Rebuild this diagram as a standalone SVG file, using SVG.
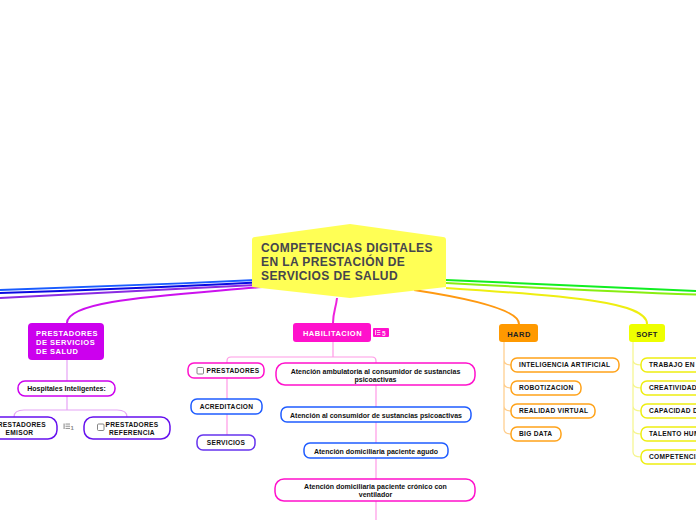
<svg xmlns="http://www.w3.org/2000/svg" width="696" height="520" viewBox="0 0 696 520">
<style>
text{font-family:"Liberation Sans",Arial,sans-serif;font-weight:bold}
.c{font-size:12px;fill:#45454d;letter-spacing:0.4px}
.w{fill:#fff;font-size:7.5px;letter-spacing:0.5px}
.t{font-size:7px;fill:#111}
.u{font-size:6.6px;fill:#111;letter-spacing:0.3px}
.m{text-anchor:middle}
.box{fill:#fff;stroke-width:1.5}
.main{fill:none;stroke-width:2}
.tree{fill:none;stroke-width:1.2}
.chk{fill:#fff;stroke:#777;stroke-width:0.9}
</style>
<g id="connectors">
<path class="main" stroke="#1a5cff" stroke-width="2.5" d="M258,280 C170,284 70,288 0,290"/>
<path class="main" stroke="#0a0ae0" d="M258,282.5 C170,287 70,291 0,293"/>
<path class="main" stroke="#8a2be2" d="M258,285 C170,289 70,295 0,298"/>
<path class="main" stroke="#cc11ee" stroke-width="1.5" d="M262,287 C160,296 67,300 67,323"/>
<path class="main" stroke="#ee22dd" stroke-width="1.5" d="M337,298 C336,308 333,312 333,323"/>
<path class="main" stroke="#11ee22" stroke-width="2.5" d="M446,280 C540,284 620,288 696,291"/>
<path class="main" stroke="#88ee11" d="M446,283 C540,288 620,292 696,294.5"/>
<path class="main" stroke="#eeee11" stroke-width="1.5" d="M446,288 C570,296 647,302 647,324"/>
<path class="main" stroke="#ff9911" stroke-width="1.5" d="M414,290 Q519,306 519,324"/>
<path class="tree" stroke="#e6a3f5" d="M67,360 L67,381 M67,396 L67,410 M14,417 Q14,410 24,410 L117,410 Q127,410 127,417"/>
<path class="tree" stroke="#ff99e6" d="M333,342 L333,357 M227,363 L227,361 Q227,357 231,357 L372,357 Q376,357 376,361 L376,363 M227,378 L227,435 M376,385 L376,520"/>
<path class="tree" stroke="#ffcc88" d="M504,342 L504,429 Q504,434 511,434 M504,360 Q504,365 511,365 M504,383 Q504,388 511,388 M504,406 Q504,411 511,411"/>
<path class="tree" stroke="#f5f58a" d="M633,342 L633,452 Q633,457 641,457 M633,360 Q633,365 641,365 M633,383 Q633,388 641,388 M633,406 Q633,411 641,411 M633,429 Q633,434 641,434"/>
</g>
<g id="central">
<path d="M252,240 Q252,237 255,237 L350,224 L443,237 Q446,237 446,240 L446,287 L350,298 L252,287 Z" fill="#ffff55"/>
<text class="c" x="261" y="252">COMPETENCIAS DIGITALES</text>
<text class="c" x="261" y="266">EN LA PRESTACIÓN DE</text>
<text class="c" x="261" y="279.5">SERVICIOS DE SALUD</text>
</g>
<g id="prestadores-servicios">
<rect x="28" y="323" width="76" height="37" rx="4" fill="#cc00ee"/>
<text class="w" x="36" y="336">PRESTADORES</text>
<text class="w" x="36" y="345">DE SERVICIOS</text>
<text class="w" x="36" y="354">DE SALUD</text>
</g>
<g id="hospitales">
<rect class="box" x="18" y="381" width="97" height="15" rx="7" stroke="#cc00ee"/>
<text class="t m" x="66.5" y="391">Hospitales Inteligentes:</text>
</g>
<g id="emisor">
<rect class="box" x="-18" y="417" width="75" height="22" rx="9" stroke="#6611ee"/>
<text class="u m" x="19.5" y="427.3">PRESTADORES</text>
<text class="u m" x="19.5" y="435">EMISOR</text>
<g fill="#999"><rect x="63.5" y="423.5" width="1.2" height="5.5"/><rect x="65.5" y="423.5" width="4.5" height="1.1"/><rect x="65.5" y="425.7" width="4.5" height="1.1"/><rect x="65.5" y="427.9" width="4.5" height="1.1"/></g>
<text x="70.5" y="429.5" font-size="6px" fill="#888" font-weight="normal">1</text>
</g>
<g id="referencia">
<rect class="box" x="84" y="417" width="86" height="22" rx="9" stroke="#6611ee"/>
<rect class="chk" x="97.5" y="424" width="6.5" height="6.5" rx="1"/>
<text class="u m" x="132" y="427.3">PRESTADORES</text>
<text class="u m" x="132" y="435">REFERENCIA</text>
</g>
<g id="habilitacion">
<rect x="293" y="323" width="78" height="19" rx="3" fill="#ff11cc"/>
<text class="w m" x="332.5" y="336" letter-spacing="0.7">HABILITACION</text>
<rect x="373" y="328" width="16" height="9" rx="1" fill="#ff11cc"/>
<g fill="#ffc4f0"><rect x="375" y="330" width="1" height="5"/><rect x="376.8" y="330" width="3.5" height="1"/><rect x="376.8" y="332" width="3.5" height="1"/><rect x="376.8" y="334" width="3.5" height="1"/></g>
<text x="382" y="335.5" font-size="6.5px" fill="#ffe0f8" font-weight="normal">5</text>
</g>
<g id="prestadores">
<rect class="box" x="188" y="363" width="76" height="15" rx="6" stroke="#ff11cc"/>
<rect class="chk" x="197" y="367.5" width="6.5" height="6.5" rx="1"/>
<text class="u m" x="233" y="373">PRESTADORES</text>
</g>
<g id="acreditacion">
<rect class="box" x="191" y="399" width="71" height="15" rx="6" stroke="#1f5cff"/>
<text class="u m" x="226.5" y="409">ACREDITACION</text>
</g>
<g id="servicios">
<rect class="box" x="197" y="435" width="58" height="15" rx="6" stroke="#6633ee"/>
<text class="u m" x="226" y="444.6">SERVICIOS</text>
</g>
<g id="ambulatoria">
<rect class="box" x="276" y="363" width="199" height="22" rx="9" stroke="#ff11cc"/>
<text class="t m" x="375.5" y="373.5">Atención ambulatoria al consumidor de sustancias</text>
<text class="t m" x="375.5" y="381.5">psicoactivas</text>
</g>
<g id="consumidor">
<rect class="box" x="281" y="407" width="190" height="15" rx="6" stroke="#1f5cff"/>
<text class="t m" x="376" y="417.5">Atención al consumidor de sustancias psicoactivas</text>
</g>
<g id="agudo">
<rect class="box" x="304" y="443" width="144" height="15" rx="6" stroke="#1f5cff"/>
<text class="t m" x="376" y="453.5">Atención domiciliaria paciente agudo</text>
</g>
<g id="cronico">
<rect class="box" x="275" y="479" width="200" height="22" rx="9" stroke="#ff11cc"/>
<text class="t m" x="375.5" y="489">Atención domiciliaria paciente crónico con</text>
<text class="t m" x="375.5" y="496.5">ventilador</text>
</g>
<g id="hard">
<rect x="499" y="324" width="39" height="18" rx="3" fill="#ff9900"/>
<text class="m" x="519" y="336.5" font-size="7.5px" fill="#222" letter-spacing="0.5">HARD</text>
</g>
<g id="ia"><rect class="box" x="511" y="358" width="108" height="14" rx="6" stroke="#ffa31a"/><text class="u" x="519" y="367">INTELIGENCIA ARTIFICIAL</text></g>
<g id="robotizacion"><rect class="box" x="511" y="381" width="70" height="14" rx="6" stroke="#ffa31a"/><text class="u" x="519" y="390">ROBOTIZACION</text></g>
<g id="realidad"><rect class="box" x="511" y="404" width="84" height="14" rx="6" stroke="#ffa31a"/><text class="u" x="519" y="413">REALIDAD VIRTUAL</text></g>
<g id="bigdata"><rect class="box" x="511" y="427" width="50" height="14" rx="6" stroke="#ffa31a"/><text class="u" x="519" y="436">BIG DATA</text></g>
<g id="soft">
<rect x="629" y="324" width="36" height="18" rx="3" fill="#eeff00"/>
<text class="m" x="647" y="336.5" font-size="7.5px" fill="#222" letter-spacing="0.4">SOFT</text>
</g>
<g id="trabajo"><rect class="box" x="641" y="358" width="70" height="14" rx="6" stroke="#eeee11"/><text class="u" x="649" y="367">TRABAJO EN E</text></g>
<g id="creatividad"><rect class="box" x="641" y="381" width="70" height="14" rx="6" stroke="#eeee11"/><text class="u" x="649" y="390">CREATIVIDAD</text></g>
<g id="capacidad"><rect class="box" x="641" y="404" width="70" height="14" rx="6" stroke="#eeee11"/><text class="u" x="649" y="413">CAPACIDAD D</text></g>
<g id="talento"><rect class="box" x="641" y="427" width="70" height="14" rx="6" stroke="#eeee11"/><text class="u" x="649" y="436">TALENTO HUM</text></g>
<g id="competencia"><rect class="box" x="641" y="450" width="70" height="14" rx="6" stroke="#eeee11"/><text class="u" x="649" y="459">COMPETENCIA</text></g>
</svg>
